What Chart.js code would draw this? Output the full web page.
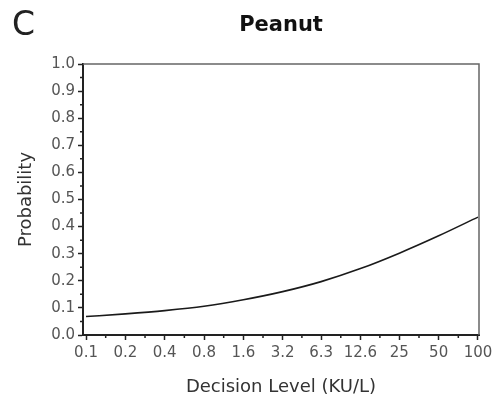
<!DOCTYPE html>
<html>
<head>
<meta charset="utf-8">
<script src="https://cdn.jsdelivr.net/npm/chart.js@4.4.0/dist/chart.umd.min.js"></script>
<style>
  body { margin: 0; background: #fff; }
  #wrap { position: relative; width: 493px; height: 398px; }
</style>
</head>
<body>
<div id="wrap"><canvas id="chart"></canvas></div>
<script>
// decision levels (KU/L) on the log axis, and their printed labels
const xTickValues = [0.1, 0.2, 0.4, 0.8, 1.6, 3.2, 6.3, 12.6, 25, 50, 100];
const xTickLabels = ["0.1", "0.2", "0.4", "0.8", "1.6", "3.2", "6.3", "12.6", "25", "50", "100"];

// probability curve
const levels = [0.1, 0.2, 0.4, 0.8, 1.6, 3.2, 6.3, 12.6, 25, 50, 100];
const probability = [0.068, 0.078, 0.090, 0.106, 0.130, 0.160, 0.197, 0.245, 0.302, 0.366, 0.435];

const FONT = "'DejaVu Sans', sans-serif";

/* ---------------- FRAME, MINOR TICKS, TITLES ---------------- */

const framePlugin = {
  id: "frame",
  afterDraw(chart) {
    const ctx = chart.ctx;
    const a = chart.chartArea;
    const x = chart.scales.x;
    const y = chart.scales.y;

    ctx.save();

    // top + right border
    ctx.strokeStyle = "#666";
    ctx.lineWidth = 1.5;
    ctx.beginPath();
    ctx.moveTo(a.left, a.top);
    ctx.lineTo(a.right, a.top);
    ctx.lineTo(a.right, a.bottom);
    ctx.stroke();

    // minor ticks
    ctx.strokeStyle = "#222";
    ctx.lineWidth = 1.5;
    ctx.beginPath();
    for (let i = 0; i < xTickValues.length - 1; i++) {
      const px = x.getPixelForValue(Math.sqrt(xTickValues[i] * xTickValues[i + 1]));
      ctx.moveTo(px, a.bottom);
      ctx.lineTo(px, a.bottom + 3);
    }
    for (let v = 0.05; v < 1; v += 0.1) {
      const py = y.getPixelForValue(v);
      ctx.moveTo(a.left, py);
      ctx.lineTo(a.left - 3, py);
    }
    ctx.stroke();

    // panel letter and title
    ctx.fillStyle = "#222";
    ctx.textBaseline = "alphabetic";
    ctx.textAlign = "left";
    ctx.font = "33px " + FONT;
    ctx.fillText("C", 12, 35);

    ctx.fillStyle = "#111";
    ctx.textAlign = "center";
    ctx.font = "bold 21px " + FONT;
    ctx.fillText("Peanut", (a.left + a.right) / 2, 31);

    ctx.restore();
  }
};

/* ---------------- CHART ---------------- */

new Chart(document.getElementById("chart"), {
  type: "line",
  data: {
    datasets: [{
      data: levels.map((v, i) => ({ x: v, y: probability[i] })),
      borderColor: "#1a1a1a",
      borderWidth: 1.6,
      pointRadius: 0,
      cubicInterpolationMode: "monotone",
      fill: false
    }]
  },
  options: {
    responsive: true,
    maintainAspectRatio: false,
    animation: false,
    events: [],
    layout: { padding: { top: 64, right: 14, left: 0, bottom: 0 } },
    plugins: {
      legend: { display: false },
      tooltip: { enabled: false },
      title: { display: false }
    },
    scales: {
      x: {
        type: "logarithmic",
        min: 0.0948,
        max: 101.8,
        afterBuildTicks: scale => {
          scale.ticks = xTickValues.map(v => ({ value: v }));
        },
        afterFit: scale => {
          scale.height = 63;
          scale.paddingLeft = 0;
          scale.paddingRight = 0;
        },
        border: { display: true, color: "#222", width: 2 },
        grid: { drawOnChartArea: false, drawTicks: true, tickLength: 5, color: "#222", tickWidth: 1.5 },
        ticks: {
          autoSkip: false,
          maxRotation: 0,
          padding: 4,
          color: "#555",
          font: { family: FONT, size: 15 },
          callback: (val, i) => xTickLabels[i]
        },
        title: {
          display: true,
          text: "Decision Level (KU/L)",
          color: "#333",
          font: { family: FONT, size: 18 },
          padding: 0
        }
      },
      y: {
        min: 0,
        max: 1,
        afterFit: scale => { scale.width = 83; },
        border: { display: true, color: "#222", width: 2 },
        grid: { drawOnChartArea: false, drawTicks: true, tickLength: 5, color: "#222", tickWidth: 1.5 },
        ticks: {
          stepSize: 0.1,
          padding: 3,
          color: "#555",
          font: { family: FONT, size: 15 },
          callback: v => v.toFixed(1)
        },
        title: {
          display: true,
          text: "Probability",
          color: "#333",
          font: { family: FONT, size: 18 },
          padding: { top: 16, bottom: 0 }
        }
      }
    }
  },
  plugins: [framePlugin]
});
</script>
</body>
</html>
